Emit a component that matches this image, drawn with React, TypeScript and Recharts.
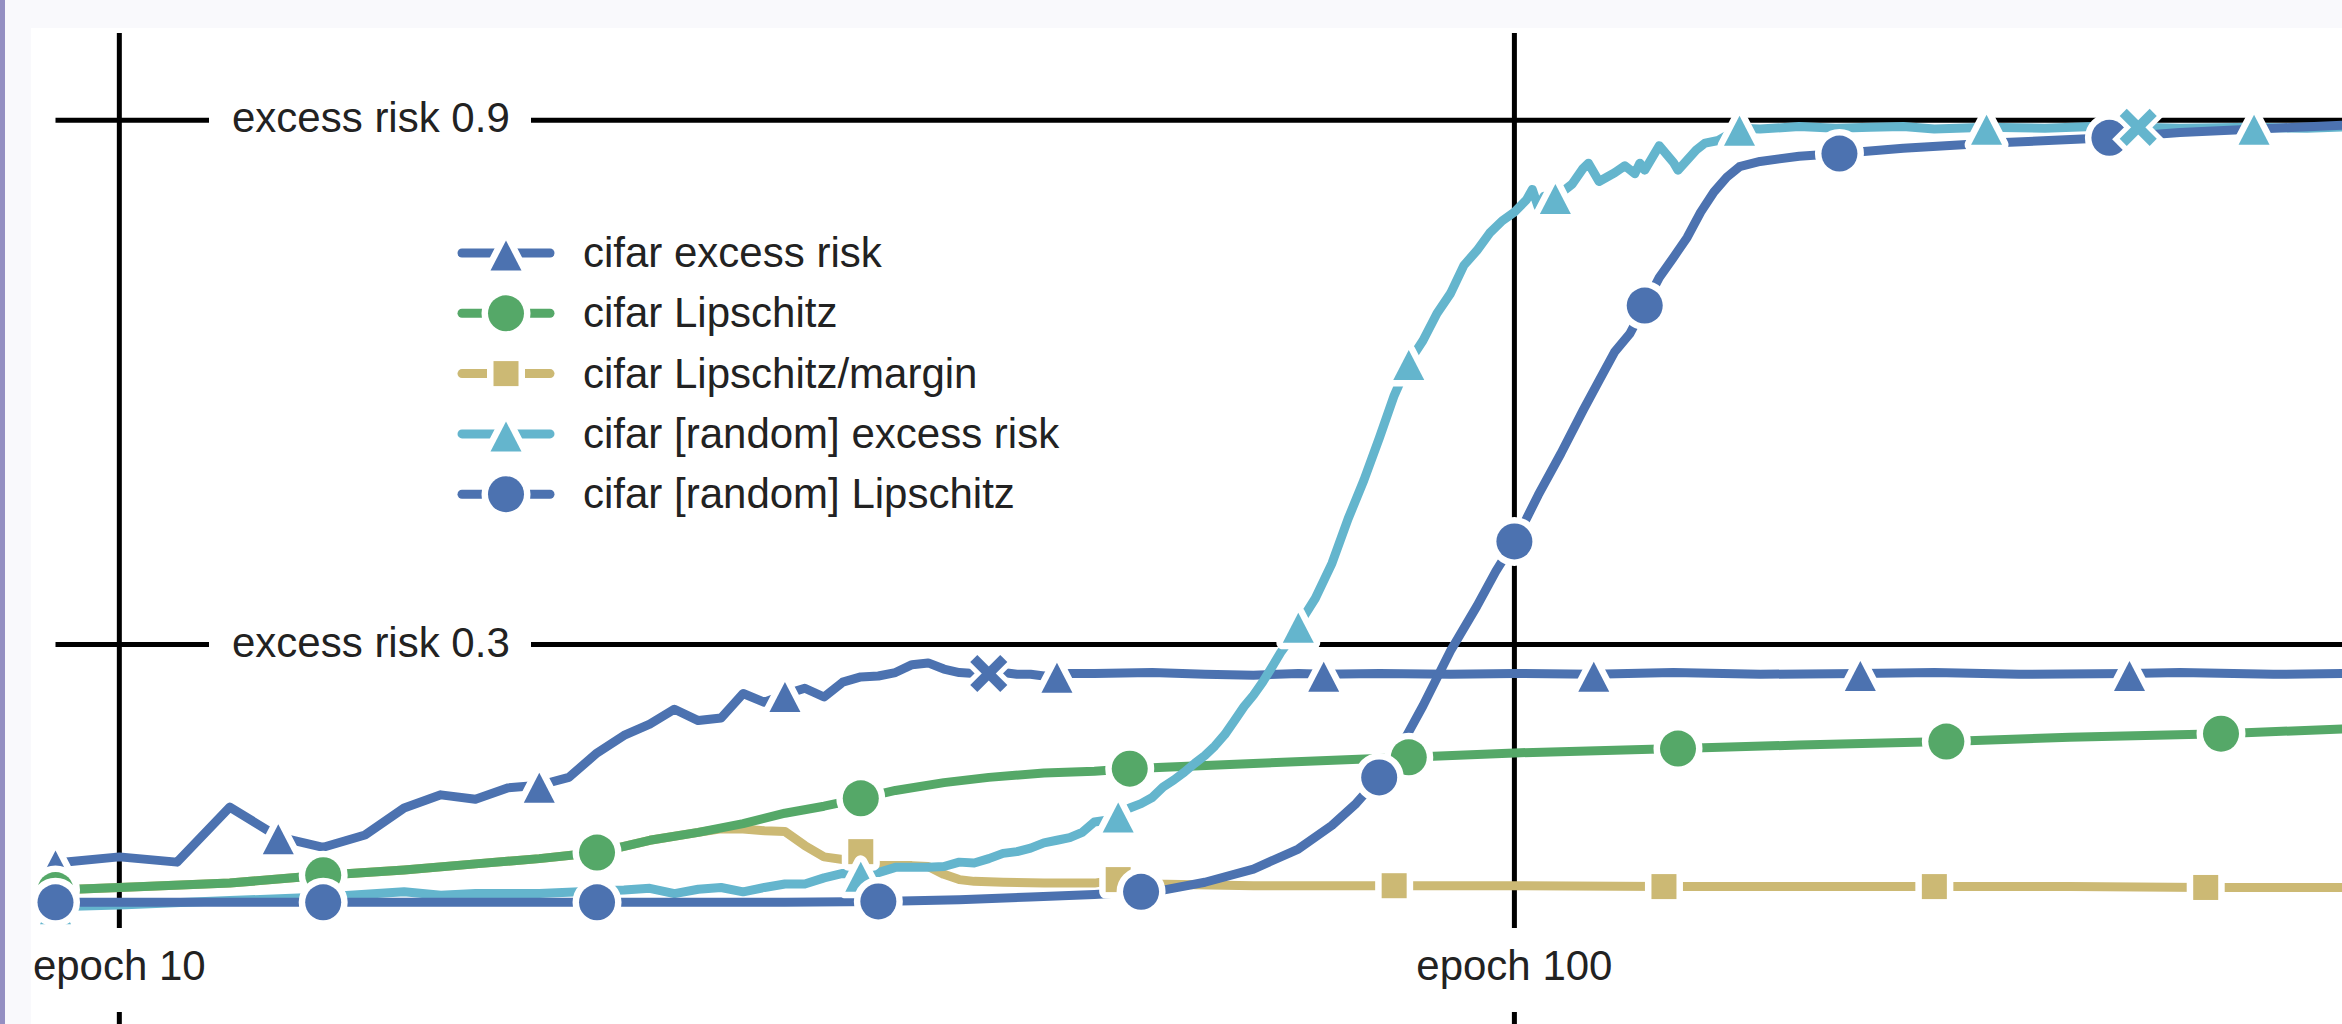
import React from 'react';
import { LineChart, Line, XAxis, YAxis, ReferenceLine } from 'recharts';

// [epoch, value] pairs (x is a log axis)
const cifarRisk: [number, number][] = [
  [9, 0.05], [10, 0.057], [11, 0.051], [12, 0.114], [13, 0.08], [14, 0.068], [15, 0.082],
  [16, 0.113], [17, 0.128], [18, 0.123], [19, 0.136], [20, 0.139], [21, 0.148], [22, 0.176],
  [23, 0.196], [24, 0.209], [25, 0.226], [26, 0.213], [27, 0.216], [28, 0.244], [29, 0.234],
  [30, 0.243], [31, 0.25], [32, 0.24], [33, 0.257], [34, 0.263], [35, 0.264], [36, 0.268],
  [37, 0.277], [38, 0.279], [39, 0.272], [40, 0.268], [41, 0.267], [42, 0.267], [43, 0.268],
  [44, 0.266], [45, 0.266], [46, 0.264], [47, 0.265], [48, 0.267], [50, 0.267], [55, 0.268],
  [60, 0.266], [65, 0.265], [70, 0.267], [73, 0.266], [80, 0.267], [90, 0.266], [100, 0.267],
  [114, 0.266], [130, 0.268], [150, 0.266], [177, 0.267], [200, 0.268], [230, 0.266],
  [276, 0.267], [300, 0.268], [350, 0.266], [400, 0.267],
];

const cifarLip: [number, number][] = [
  [9, 0.019], [10, 0.022], [12, 0.027], [14, 0.036], [16, 0.042], [18, 0.049], [20, 0.055],
  [22, 0.062], [24, 0.076], [26, 0.085], [28, 0.095], [30, 0.107], [32, 0.115], [34, 0.124],
  [36, 0.133], [39, 0.142], [42, 0.148], [46, 0.153], [50, 0.155], [53, 0.158], [65, 0.164],
  [84, 0.171], [100, 0.176], [131, 0.181], [160, 0.185], [204, 0.189], [250, 0.194],
  [321, 0.198], [400, 0.204],
];

const cifarMargin: [number, number][] = [
  [9, 0.019], [10, 0.022], [12, 0.027], [14, 0.036], [16, 0.042], [18, 0.049], [20, 0.055],
  [22, 0.062], [24, 0.076], [26, 0.085], [27, 0.089], [28, 0.089], [29, 0.087], [30, 0.086],
  [31, 0.07], [32, 0.057], [33, 0.054], [34, 0.063], [35, 0.047], [36, 0.047], [37, 0.047],
  [38, 0.046], [39, 0.037], [40, 0.031], [41, 0.029], [43, 0.028], [46, 0.027], [50, 0.027],
  [52, 0.031], [55, 0.026], [65, 0.024], [82, 0.024], [100, 0.024], [128, 0.023], [160, 0.023],
  [200, 0.023], [250, 0.023], [313, 0.022], [400, 0.022],
];

const randomRisk: [number, number][] = [
  [9, 0.0], [10, 0.002], [12, 0.007], [14, 0.011], [16, 0.017], [17, 0.013], [18, 0.015],
  [20, 0.015], [22, 0.018], [23, 0.019], [24, 0.021], [25, 0.015], [26, 0.02], [27, 0.022],
  [28, 0.017], [29, 0.022], [30, 0.026], [31, 0.026], [32, 0.033], [33, 0.038], [34, 0.037],
  [35, 0.039], [36, 0.045], [37, 0.045], [38, 0.045], [39, 0.046], [40, 0.051], [41, 0.05],
  [42, 0.055], [43, 0.061], [44, 0.063], [45, 0.067], [46, 0.073], [47, 0.076], [48, 0.079],
  [49, 0.085], [50, 0.097], [51, 0.099], [52, 0.105], [53, 0.113], [54, 0.118], [55, 0.125],
  [56, 0.137], [57, 0.145], [58, 0.154], [59, 0.164], [60, 0.173], [61, 0.184], [62, 0.197],
  [63, 0.213], [64, 0.229], [65, 0.242], [66, 0.257], [67, 0.274], [68, 0.291], [69, 0.305],
  [70, 0.322], [72, 0.353], [74, 0.393], [76, 0.444], [78, 0.488], [80, 0.536], [82, 0.585],
  [84, 0.623], [86, 0.648], [88, 0.679], [90, 0.702], [92, 0.734], [94, 0.751], [96, 0.771],
  [98, 0.785], [100, 0.795], [102, 0.809], [103, 0.821], [104, 0.801], [105, 0.813],
  [106, 0.808], [107, 0.813], [108, 0.817], [110, 0.827], [112, 0.845], [113, 0.851],
  [115, 0.83], [118, 0.84], [120, 0.848], [122, 0.839], [123, 0.851], [124, 0.843],
  [127, 0.871], [130, 0.852], [131, 0.843], [135, 0.866], [137, 0.874], [140, 0.877],
  [145, 0.891], [150, 0.89], [160, 0.893], [170, 0.891], [180, 0.892], [190, 0.893],
  [200, 0.89], [218, 0.892], [240, 0.891], [260, 0.893], [280, 0.892], [300, 0.891],
  [339, 0.892], [370, 0.891], [400, 0.893],
];

const randomLip: [number, number][] = [
  [9, 0.005], [14, 0.005], [22, 0.005], [30, 0.005], [35, 0.006], [40, 0.008], [45, 0.011],
  [50, 0.014], [54, 0.017], [56, 0.019], [60, 0.028], [65, 0.043], [70, 0.066], [74, 0.093],
  [77, 0.118], [80, 0.148], [83, 0.185], [86, 0.23], [90, 0.293], [94, 0.344], [97, 0.384],
  [100, 0.418], [102, 0.444], [104, 0.471], [108, 0.519], [112, 0.568], [115, 0.602],
  [118, 0.635], [121, 0.656], [124, 0.688], [127, 0.72], [130, 0.743], [133, 0.766],
  [136, 0.795], [139, 0.818], [142, 0.835], [145, 0.847], [150, 0.853], [160, 0.859],
  [171, 0.862], [190, 0.868], [220, 0.874], [267, 0.88], [300, 0.886], [350, 0.891],
  [400, 0.895],
];

// epochs that carry a plot marker
const riskMarks = [9, 13, 20, 30, 47, 73, 114, 177, 276];
const lipMarks = [9, 14, 22, 34, 53, 84, 131, 204, 321];
const marginMarks = [9, 14, 22, 34, 52, 82, 128, 200, 313];
const randomRiskMarks = [9, 14, 22, 34, 52, 70, 84, 107, 145, 218, 339];
const randomLipMarks = [9, 14, 22, 35, 54, 80, 100, 124, 171, 267];

// the two "x" points
const riskStop: [number, number][] = [[42, 0.267]];
const randomRiskStop: [number, number][] = [[280, 0.892]];

const epochTicks = [10, 100];
const riskTicks = [0.3, 0.9];

const BLUE = '#4C72B0';
const GREEN = '#55A868';
const TAN = '#CCB974';
const CYAN = '#64B5CD';
const FONT = '"Liberation Sans", Arial, Helvetica, sans-serif';
const INK = '#222';
const LINE_W = 9;
const GRID_W = 5;

type Shape = 'triangle' | 'circle' | 'square' | 'cross';

const Marker = ({ shape, cx, cy, color }: { shape: Shape; cx: number; cy: number; color: string }) => {
  const outline = { stroke: '#fff', strokeWidth: 13, strokeLinejoin: 'round' as const, style: { paintOrder: 'stroke' } };
  if (shape === 'triangle') {
    const pts = `${cx - 15.5},${cy + 17.5} ${cx + 15.5},${cy + 17.5} ${cx},${cy - 12.5}`;
    return <polygon points={pts} fill={color} {...outline} />;
  }
  if (shape === 'circle') return <circle cx={cx} cy={cy} r={18} fill={color} {...outline} />;
  if (shape === 'square') return <rect x={cx - 12.5} y={cy - 12.5} width={25} height={25} fill={color} {...outline} />;
  const a = 15;
  const b = 19;
  return (
    <g>
      <line x1={cx - b} y1={cy - b} x2={cx + b} y2={cy + b} stroke="#fff" strokeWidth={20} />
      <line x1={cx - b} y1={cy + b} x2={cx + b} y2={cy - b} stroke="#fff" strokeWidth={20} />
      <line x1={cx - a} y1={cy - a} x2={cx + a} y2={cy + a} stroke={color} strokeWidth={10} />
      <line x1={cx - a} y1={cy + a} x2={cx + a} y2={cy - a} stroke={color} strokeWidth={10} />
    </g>
  );
};

const makeDot = (marks: number[] | null, shape: Shape, color: string) => (props: any) => {
  const { cx, cy, payload, index } = props;
  if (cx == null || cy == null || (marks && !marks.includes(payload.epoch))) return <g key={`d-${index}`} />;
  return (
    <g key={`d-${index}`}>
      <Marker shape={shape} cx={cx} cy={cy} color={color} />
    </g>
  );
};

const toRows = (pts: [number, number][]) => pts.map(([epoch, value]) => ({ epoch, value }));

// draw order: margin sits under Lipschitz, random curves on top
const series = [
  { name: 'cifar Lipschitz/margin', data: cifarMargin, marks: marginMarks, color: TAN, shape: 'square' as Shape },
  { name: 'cifar excess risk', data: cifarRisk, marks: riskMarks, color: BLUE, shape: 'triangle' as Shape },
  { name: 'cifar Lipschitz', data: cifarLip, marks: lipMarks, color: GREEN, shape: 'circle' as Shape },
  { name: 'cifar [random] excess risk', data: randomRisk, marks: randomRiskMarks, color: CYAN, shape: 'triangle' as Shape },
  { name: 'cifar [random] Lipschitz', data: randomLip, marks: randomLipMarks, color: BLUE, shape: 'circle' as Shape },
];

const legendOrder = [1, 2, 0, 3, 4].map((i) => series[i]);

// label that breaks a vertical grid line near the bottom
const epochLabel = (value: number) => (props: any) => {
  const x = props.viewBox?.x ?? 0;
  return (
    <g>
      <rect x={x - 8} y={928} width={16} height={84} fill="#fff" />
      <text x={x} y={980} textAnchor="middle" fontFamily={FONT} fontSize={42} fill={INK}>
        {`epoch ${value}`}
      </text>
    </g>
  );
};

// label that breaks a horizontal grid line near the left
const riskLabel = (value: number) => (props: any) => {
  const y = props.viewBox?.y ?? 0;
  return (
    <g>
      <rect x={209} y={y - 8} width={322} height={16} fill="#fff" />
      <text x={232} y={y + 12} fontFamily={FONT} fontSize={42} fill={INK}>
        {`excess risk ${value}`}
      </text>
    </g>
  );
};

const Legend = () => (
  <svg width={2342} height={1024} style={{ position: 'absolute', left: 0, top: 0, pointerEvents: 'none' }}>
    {legendOrder.map((s, i) => {
      const y = 253 + i * 60.3;
      return (
        <g key={s.name}>
          <line x1={462} x2={550} y1={y} y2={y} stroke={s.color} strokeWidth={LINE_W} strokeLinecap="round" />
          <Marker shape={s.shape} cx={506} cy={y} color={s.color} />
          <text x={583} y={y + 14} fontFamily={FONT} fontSize={42} fill={INK}>
            {s.name}
          </text>
        </g>
      );
    })}
  </svg>
);

const App: React.FC = () => (
  <div
    style={{
      position: 'absolute',
      left: 0,
      top: 0,
      width: 2342,
      height: 1024,
      overflow: 'hidden',
      background: '#f9f9fc',
    }}
  >
    {/* force the curve width in case the prop is not forwarded */}
    <style>{`.recharts-line-curve { stroke-width: ${LINE_W}px !important; stroke-linejoin: round; }`}</style>
    <div style={{ position: 'absolute', left: 0, top: 0, width: 5, height: 1024, background: '#948fc2' }} />
    <div style={{ position: 'absolute', left: 31, top: 28, right: 0, bottom: 0, background: '#fff' }} />
    <div style={{ position: 'absolute', left: 0, top: 0 }}>
      <LineChart width={2490} height={1029} margin={{ top: 33, left: 55.5, right: 0.5, bottom: 0 }}>
        <XAxis dataKey="epoch" type="number" scale="log" domain={[9, 500]} hide />
        <YAxis type="number" domain={[-0.14, 1]} hide />
        {epochTicks.map((e) => (
          <ReferenceLine
            key={`v-${e}`}
            x={e}
            stroke="#000"
            strokeWidth={GRID_W}
            zIndex={-10}
            label={epochLabel(e)}
          />
        ))}
        {riskTicks.map((r) => (
          <ReferenceLine
            key={`h-${r}`}
            y={r}
            stroke="#000"
            strokeWidth={GRID_W}
            zIndex={-10}
            label={riskLabel(r)}
          />
        ))}
        {series.map((s) => (
          <Line
            key={s.name}
            data={toRows(s.data)}
            dataKey="value"
            type="linear"
            stroke={s.color}
            strokeWidth={LINE_W}
            strokeLinejoin="round"
            dot={makeDot(s.marks, s.shape, s.color)}
            activeDot={false}
            isAnimationActive={false}
          />
        ))}
        <Line
          data={toRows(riskStop)}
          dataKey="value"
          stroke="none"
          dot={makeDot(null, 'cross', BLUE)}
          activeDot={false}
          isAnimationActive={false}
        />
        <Line
          data={toRows(randomRiskStop)}
          dataKey="value"
          stroke="none"
          dot={makeDot(null, 'cross', CYAN)}
          activeDot={false}
          isAnimationActive={false}
        />
      </LineChart>
    </div>
    <Legend />
  </div>
);

export default App;
